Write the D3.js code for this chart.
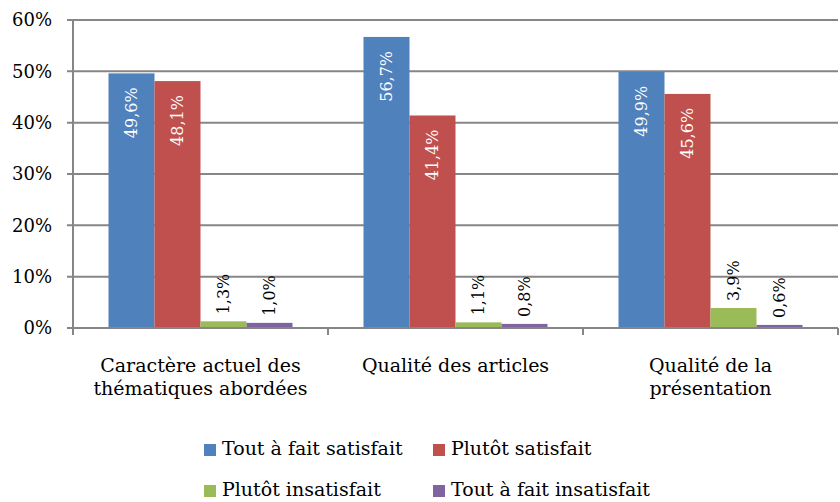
<!DOCTYPE html>
<html>
<head>
<meta charset="utf-8">
<script src="https://cdn.jsdelivr.net/npm/d3@7"></script>
<style>
  body { margin: 0; background: #fff; }
  svg text { font-family: "DejaVu Serif", serif; }
</style>
</head>
<body>
<div id="chart"></div>
<script>
// data
var categories = [["Caractère actuel des", "thématiques abordées"], ["Qualité des articles"], ["Qualité de la", "présentation"]];
var series = ["Tout à fait satisfait", "Plutôt satisfait", "Plutôt insatisfait", "Tout à fait insatisfait"];
var colors = ["#4F81BD", "#C0504D", "#9BBB59", "#8064A2"];
var values = [
  [0.496, 0.481, 0.013, 0.010],
  [0.567, 0.414, 0.011, 0.008],
  [0.499, 0.456, 0.039, 0.006]
];
var yTicks = [0, 0.1, 0.2, 0.3, 0.4, 0.5, 0.6];

var width = 840, height = 502;
var plotLeft = 73, plotRight = 838, plotTop = 20, plotBottom = 328;

var svg = d3.select('#chart').append('svg')
  .attr('width', width).attr('height', height);

var x0 = d3.scaleBand().domain(d3.range(categories.length)).range([plotLeft, plotRight]);
var x1 = d3.scaleBand().domain(d3.range(series.length)).range([35.5, x0.bandwidth() - 35.5]);
var y = d3.scaleLinear().domain([0, 0.6]).range([plotBottom, plotTop]);

var fmt = function(v){ return d3.format('.1%')(v).replace('.', ','); };

// gridlines
svg.append('g').selectAll('line').data(yTicks).enter().append('line')
  .attr('x1', plotLeft - 6).attr('x2', plotRight)
  .attr('y1', function(d){ return y(d); }).attr('y2', function(d){ return y(d); })
  .attr('stroke', '#868686').attr('stroke-width', 2);

// y tick labels
var yAxis = d3.axisLeft(y).tickValues(yTicks).tickSize(0)
  .tickFormat(function(d){ return Math.round(d * 100) + '%'; });
var yG = svg.append('g').attr('transform', 'translate(' + plotLeft + ',0)').call(yAxis);
yG.select('.domain').remove();
yG.selectAll('text').attr('x', -21).attr('font-size', 18).attr('fill', '#000')
  .style('font-family', '"DejaVu Serif", serif');

// y axis line
svg.append('line').attr('x1', plotLeft).attr('x2', plotLeft).attr('y1', plotTop).attr('y2', plotBottom)
  .attr('stroke', '#868686').attr('stroke-width', 2);

// bars
var groups = svg.selectAll('.cat').data(values).enter().append('g')
  .attr('class', 'cat')
  .attr('transform', function(d, i){ return 'translate(' + x0(i) + ',0)'; });

groups.selectAll('rect').data(function(d){ return d; }).enter().append('rect')
  .attr('x', function(d, j){ return x1(j); })
  .attr('y', function(d){ return y(d); })
  .attr('width', x1.bandwidth())
  .attr('height', function(d){ return plotBottom - y(d); })
  .attr('fill', function(d, j){ return colors[j]; });

// value labels (rotated)
groups.selectAll('text.val').data(function(d){ return d; }).enter().append('text')
  .attr('class', 'val')
  .attr('font-size', 16)
  .attr('dominant-baseline', 'central')
  .attr('text-anchor', function(d){ return d > 0.1 ? 'end' : 'start'; })
  .attr('fill', function(d){ return d > 0.1 ? '#fff' : '#000'; })
  .attr('transform', function(d, j){
    var cx = x1(j) + x1.bandwidth() / 2;
    var cy = d > 0.1 ? y(d) + 14 : y(d) - 7;
    return 'translate(' + cx + ',' + cy + ') rotate(-90)';
  })
  .text(fmt);

// x axis
svg.append('line').attr('x1', plotLeft).attr('x2', plotRight).attr('y1', plotBottom).attr('y2', plotBottom)
  .attr('stroke', '#868686').attr('stroke-width', 2);
var bounds = d3.range(categories.length + 1).map(function(i){ return plotLeft + i * x0.step(); });
svg.append('g').selectAll('line').data(bounds).enter().append('line')
  .attr('x1', function(d){ return d; }).attr('x2', function(d){ return d; })
  .attr('y1', plotBottom).attr('y2', plotBottom + 7)
  .attr('stroke', '#868686').attr('stroke-width', 2);

// category labels
var catText = svg.append('g').selectAll('text').data(categories).enter().append('text')
  .attr('text-anchor', 'middle').attr('font-size', 19).attr('fill', '#000')
  .attr('x', function(d, i){ return x0(i) + x0.bandwidth() / 2; })
  .attr('y', 372);
catText.selectAll('tspan').data(function(d){ return d; }).enter().append('tspan')
  .attr('x', function(){ return d3.select(this.parentNode).attr('x'); })
  .attr('dy', function(d, k){ return k === 0 ? 0 : 23; })
  .text(function(d){ return d; });

// legend
var legPos = [[204, 444], [433, 444], [204, 485], [433, 485]];
var leg = svg.append('g').selectAll('g').data(series).enter().append('g')
  .attr('transform', function(d, i){ return 'translate(' + legPos[i][0] + ',' + legPos[i][1] + ')'; });
leg.append('rect').attr('width', 12).attr('height', 12)
  .attr('fill', function(d, i){ return colors[i]; });
leg.append('text').attr('x', 18).attr('y', 11).attr('font-size', 19).attr('fill', '#000')
  .text(function(d){ return d; });
</script>
</body>
</html>
